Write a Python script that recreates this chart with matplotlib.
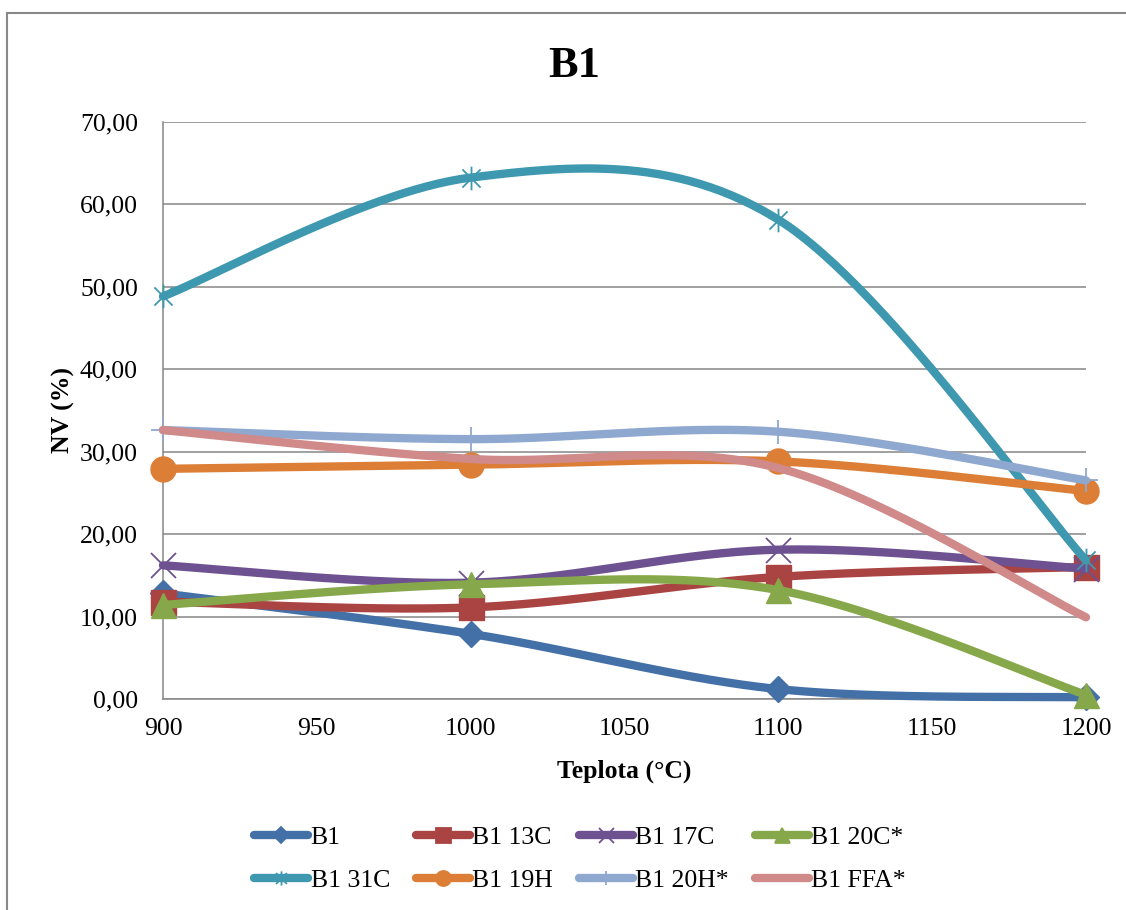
import numpy as np
import matplotlib
matplotlib.use("Agg")
import matplotlib.pyplot as plt
from matplotlib.lines import Line2D
from matplotlib.path import Path
from matplotlib.patches import Rectangle
from matplotlib.ticker import FuncFormatter

plt.rcParams['font.family'] = ['Liberation Serif', 'DejaVu Serif']

# data
teplota = [900, 1000, 1100, 1200]
b1     = [12.8, 7.9, 1.2, 0.2]
b1_13c = [11.8, 11.1, 14.8, 16.0]
b1_17c = [16.2, 14.1, 18.1, 15.8]
b1_20c = [11.4, 13.9, 13.2, 0.5]
b1_31c = [48.8, 63.2, 58.1, 16.8]
b1_19h = [27.9, 28.4, 28.8, 25.2]
b1_20h = [32.6, 31.5, 32.4, 26.5]
b1_ffa = [32.6, 29.1, 28.0, 9.9]

labels = ['B1', 'B1 13C', 'B1 17C', 'B1 20C*', 'B1 31C', 'B1 19H', 'B1 20H*', 'B1 FFA*']
series = [b1, b1_13c, b1_17c, b1_20c, b1_31c, b1_19h, b1_20h, b1_ffa]
colors = ['#4470A8', '#A94442', '#6D5190', '#87A84A', '#3E98AF', '#DC7E36', '#8FA8CF', '#D08A8A']

# asterisk marker like excel (x with a vertical bar)
star = Path([(-1, -1), (1, 1), (-1, 1), (1, -1), (0, -1.3), (0, 1.3)],
            [Path.MOVETO, Path.LINETO] * 3)
markers = ['D', 's', 'x', '^', star, 'o', '+', None]
msizes = [13, 18, 18, 18, 17, 18, 17, 0]
filled = [True, True, False, True, False, True, False, True]


# excel style smoothed line (bezier through the points)
def smooth(x, y, n=60):
    p = np.column_stack([x, y]).astype(float)
    p = np.vstack([p[0], p, p[-1]])
    out = []
    for i in range(1, len(p) - 2):
        p0, p1, p2, p3 = p[i - 1], p[i], p[i + 1], p[i + 2]
        c1 = p1 + (p2 - p0) / 6
        c2 = p2 - (p3 - p1) / 6
        t = np.linspace(0, 1, n)[:, None]
        seg = (1 - t) ** 3 * p1 + 3 * (1 - t) ** 2 * t * c1 + 3 * (1 - t) * t ** 2 * c2 + t ** 3 * p2
        out.append(seg if i == 1 else seg[1:])
    out = np.vstack(out)
    return out[:, 0], out[:, 1]


fig = plt.figure(figsize=(11.26, 9.10), dpi=100)
ax = fig.add_axes([163 / 1126, 1 - 699 / 910, 923 / 1126, 577.5 / 910])

handles = []
for i, (lab, ys, col) in enumerate(zip(labels, series, colors)):
    sx, sy = smooth(teplota, ys)
    ax.plot(sx, sy, color=col, lw=6, solid_capstyle='round', zorder=3 + 2 * i, clip_on=False)
    mk = markers[i]
    if mk is not None:
        if filled[i]:
            ax.plot(teplota, ys, ls='none', marker=mk, ms=msizes[i], color=col,
                    mec=col, mew=1, zorder=4 + 2 * i, clip_on=False)
        else:
            ax.plot(teplota, ys, ls='none', marker=mk, ms=msizes[i], color=col,
                    mfc='none', mec=col, mew=1.3, zorder=4 + 2 * i, clip_on=False)
    handles.append(Line2D([], [], color=col, lw=6, solid_capstyle='round',
                          marker=mk, ms=msizes[i] * 0.6, mec=col,
                          mfc=col if filled[i] else 'none', mew=1.3))

ax.set_xlim(900, 1200)
ax.set_ylim(0, 70)
ax.set_xticks(np.arange(900, 1201, 50))
ax.set_yticks(np.arange(0, 71, 10))
ax.yaxis.set_major_formatter(FuncFormatter(lambda v, p: ('%.2f' % v).replace('.', ',')))
ax.tick_params(axis='both', length=0, labelsize=18.5)
ax.tick_params(axis='y', pad=18)
ax.tick_params(axis='x', pad=14)
ax.grid(axis='y', color='#868686', lw=1.1, zorder=1)
ax.set_axisbelow(True)
for s in ['top', 'right']:
    ax.spines[s].set_visible(False)
for s in ['left', 'bottom']:
    ax.spines[s].set_color('#868686')
    ax.spines[s].set_linewidth(1.1)

ax.set_xlabel('Teplota (°C)', fontsize=18.5, fontweight='bold')
ax.xaxis.set_label_coords(0.5, -0.105)
ax.set_ylabel('NV (%)', fontsize=18.5, fontweight='bold')
ax.yaxis.set_label_coords(-0.095, 0.5)
ax.set_title('B1', fontsize=32, fontweight='bold', x=(574 - 163) / 923, y=(699 - 77) / 577.5, pad=0)

# legend, row-major order in 4 columns
order = [0, 4, 1, 5, 2, 6, 3, 7]
fig.legend([handles[k] for k in order], [labels[k] for k in order],
           ncol=4, loc='center', bbox_to_anchor=(580 / 1126, 1 - 859 / 910),
           frameon=False, fontsize=18.5, handlelength=2.1, handletextpad=0.1,
           columnspacing=1.0, labelspacing=0.75)

# outer chart frame
fig.patches.append(Rectangle((7 / 1126, -0.2), 1.2, 1.2 - 13 / 910,
                             transform=fig.transFigure, fill=False,
                             edgecolor='#888888', lw=1.5, clip_on=False))

fig.savefig('out.png', dpi=100)
